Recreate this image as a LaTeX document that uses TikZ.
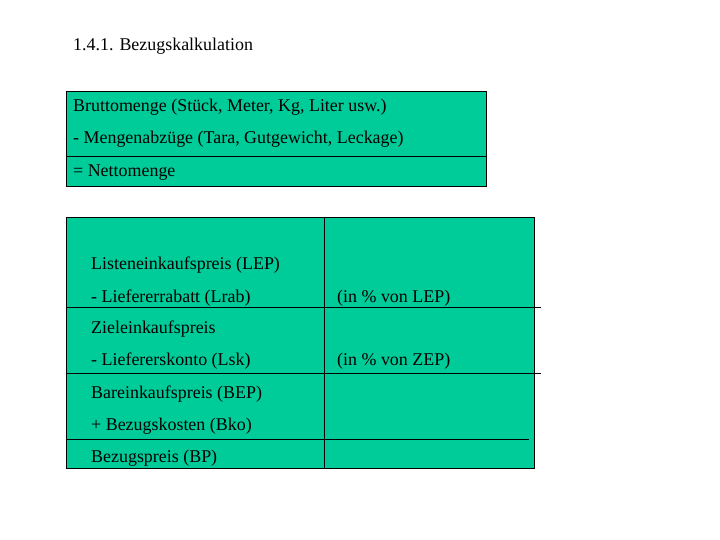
\documentclass[tikz,border=0pt]{standalone}
\usepackage{fontspec}
\setmainfont{Liberation Serif}
\definecolor{boxgreen}{RGB}{0,204,153}

\begin{document}
\begin{tikzpicture}[x=1bp,y=-1bp,
    txt/.style={anchor=base west,inner sep=0pt,font=\fontsize{18}{21}\selectfont},
    rule/.style={black,line width=0.9bp}]
    \useasboundingbox[fill=white] (0,0) rectangle (720,540);

    \node[txt] (title) at (73,51) {1.4.1. Bezugskalkulation};

    % Mengen
    \draw[rule,fill=boxgreen] (66,91) rectangle (486,186);
    \draw[rule] (66,156) -- (486,156);
    \node[txt] (brutto) at (73,112) {Bruttomenge (Stück, Meter, Kg, Liter usw.)};
    \node[txt] (abzug) at (73,144) {- Mengenabzüge (Tara, Gutgewicht, Leckage)};
    \node[txt] (netto) at (73,177) {= Nettomenge};

    % Preise
    \draw[rule,fill=boxgreen] (66,217) rectangle (534,468);
    \draw[rule] (324,217) -- (324,468);
    \draw[rule] (66,307) -- (541,307);
    \draw[rule] (66,373) -- (541,373);
    \draw[rule] (66,439) -- (529,439);
    \node[txt] (lep) at (91,270) {Listeneinkaufspreis (LEP)};
    \node[txt] (lrab) at (91,302) {- Liefererrabatt (Lrab)};
    \node[txt] (zep) at (91,333) {Zieleinkaufspreis};
    \node[txt] (lsk) at (91,365) {- Liefererskonto (Lsk)};
    \node[txt] (bep) at (91,398) {Bareinkaufspreis (BEP)};
    \node[txt] (bko) at (91,430) {+ Bezugskosten (Bko)};
    \node[txt] (bp) at (91,462) {Bezugspreis (BP)};
    \node[txt] (plep) at (337,302) {(in \% von LEP)};
    \node[txt] (pzep) at (337,365) {(in \% von ZEP)};
\end{tikzpicture}
\end{document}
